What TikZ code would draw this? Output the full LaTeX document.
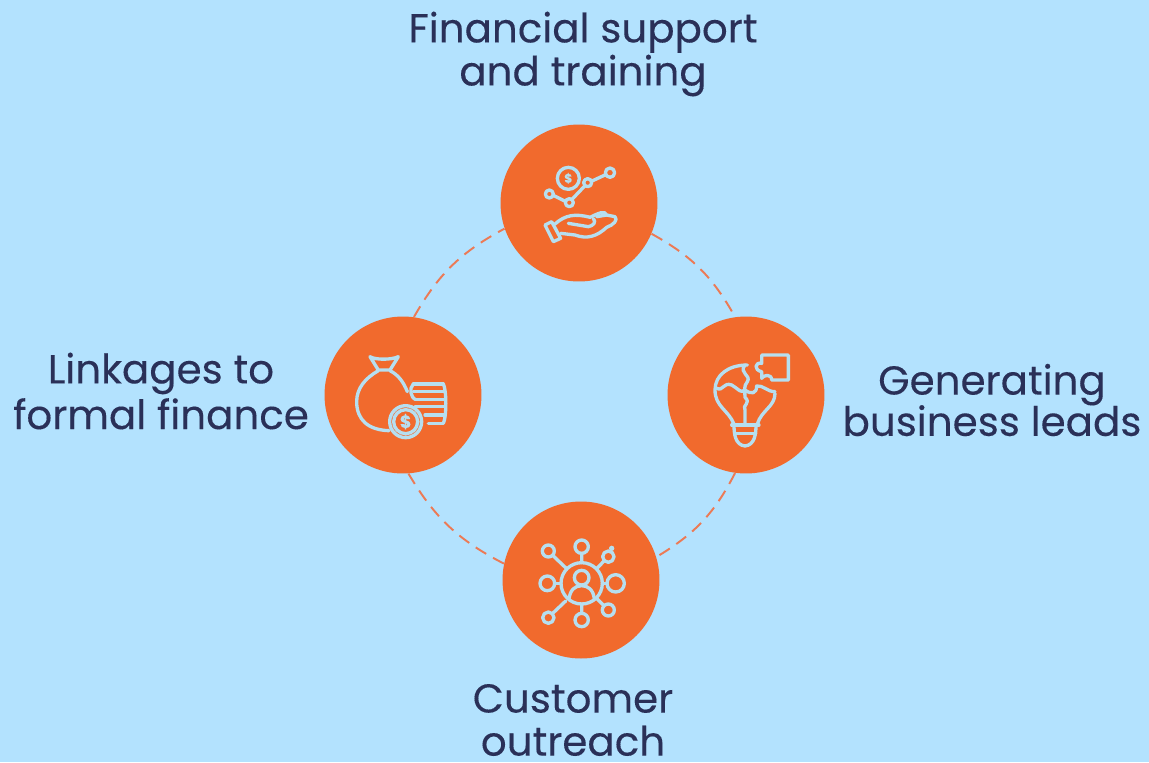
\documentclass[tikz,border=0pt]{standalone}
\usepackage{fontspec}
\setmainfont{Poppins}[FakeBold=0.2]
\definecolor{skybg}{HTML}{B3E2FE}
\definecolor{discorange}{HTML}{F16A2D}
\definecolor{inktext}{HTML}{2A3058}
\definecolor{iconline}{HTML}{B6DFF0}
\definecolor{linkdash}{HTML}{EC7A55}
\tikzset{
  disc/.style={circle,fill=discorange,minimum size=3.14cm,inner sep=0pt},
  caption/.style={align=center,text=inktext,inner sep=0pt,
                  font=\fontsize{23}{24.5}\selectfont},
  ringlink/.style={linkdash,line width=1.1pt,dash pattern=on 7pt off 4.5pt},
  iconpen/.style={iconline,line width=1.9pt,line join=round,line cap=round},
  iconframe/.style={shift={#1},x=0.00667cm,y=-0.00667cm}
}

\begin{document}
\begin{tikzpicture}[x=0.02cm,y=-0.02cm]
  \fill[skybg] (0,0) rectangle (1149,762);
  \useasboundingbox (0,0) rectangle (1149,762);
  % discs
  \node[disc] (support)  at (579,203) {};
  \node[disc] (leads)    at (746,395) {};
  \node[disc] (outreach) at (581,580) {};
  \node[disc] (finance)  at (403,395) {};
  % dashed ring
  \draw[ringlink] (support.-23)  to[bend left=16] (leads.98);
  \draw[ringlink] (leads.-98)    to[bend left=16] (outreach.17);
  \draw[ringlink] (outreach.168) to[bend left=16] (finance.-86);
  \draw[ringlink] (finance.82)   to[bend left=16] (support.199);
  % captions
  \node[caption] (supportcap)  at (583,54)  {Financial support\\and training};
  \node[caption] (leadscap)    at (992,400) {Generating\\[-1pt]business leads};
  \node[caption] (outreachcap) at (573,720) {Customer\\outreach};
  \node[caption] (financecap)  at (161,391) {Linkages to\\[1.5pt]formal finance};
  % hand and chart
  \begin{scope}[iconframe={(490,120)},iconpen]
    \draw (235,175) circle (33);
    \node[iconline,inner sep=0pt,font=\fontsize{7}{7}\selectfont\bfseries] (coinA) at (235,175) {\$};
    \draw (178,222) circle (12) (238,248) circle (12) (293,188) circle (12) (360,158) circle (14);
    \draw (190,226) -- (226,244) (246,238) -- (285,197) (304,184) -- (347,164);
    \draw (165,315) -- (185,305) -- (212,355) -- (190,365) -- cycle;
    \draw (195,312) .. controls (225,285) and (255,280) .. (300,292)
          .. controls (325,280) and (345,270) .. (350,285)
          -- (375,290) .. controls (385,300) and (370,315) .. (350,322)
          .. controls (320,350) and (290,358) .. (255,345) -- (212,340);
    \draw (235,310) -- (295,320) .. controls (310,318) and (320,305) .. (310,296);
    \draw (320,290) -- (350,285);
  \end{scope}
  % bulb and puzzle
  \begin{scope}[iconframe={(660,310)},iconpen]
    \draw (222,342) .. controls (205,300) and (165,290) .. (165,240)
          .. controls (165,195) and (205,165) .. (262,165);
    \draw (345,250) .. controls (345,290) and (305,300) .. (292,342);
    \draw (255,165) .. controls (235,190) and (275,195) .. (262,215)
          .. controls (250,230) and (255,240) .. (255,262)
          .. controls (275,280) and (245,285) .. (255,300) -- (255,342);
    \draw (170,235) .. controls (190,245) and (190,215) .. (215,225)
          .. controls (240,240) and (240,250) .. (255,240)
          .. controls (275,255) and (290,250) .. (290,228)
          .. controls (310,225) and (320,245) .. (345,245);
    \draw (215,345) -- (297,345) (225,370) -- (287,370);
    \draw (222,345) .. controls (222,370) and (225,405) .. (255,408)
          .. controls (285,405) and (288,370) .. (288,345);
    \draw (305,135) -- (385,135) -- (385,210) -- (335,210)
          .. controls (335,190) and (310,195) .. (305,205)
          -- (305,185) .. controls (280,180) and (285,155) .. (305,160) -- cycle;
  \end{scope}
  % person and network
  \begin{scope}[iconframe={(495,495)},iconpen]
    \draw (260,265) circle (62);
    \draw (260,248) circle (22);
    \draw (222,312) .. controls (225,285) and (240,272) .. (260,272)
          .. controls (280,272) and (295,285) .. (298,312);
    \draw (260,155) circle (20) (160,168) circle (18) (340,185) circle (17);
    \draw (157,265) circle (22) (362,265) circle (26);
    \draw (160,368) circle (17) (260,375) circle (20) (340,345) circle (18);
    \draw (260,175) -- (260,203) (173,181) -- (216,222) (328,197) -- (304,222);
    \draw (179,265) -- (198,265) (336,265) -- (322,265);
    \draw (172,356) -- (212,318) (260,355) -- (260,327) (327,332) -- (304,309);
    \fill[iconline] (350,160) circle (8);
  \end{scope}
  % money bag and coins
  \begin{scope}[iconframe={(315,310)},iconpen]
    \draw (165,140) .. controls (180,150) and (230,150) .. (250,140)
          -- (225,180) -- (190,180) -- cycle;
    \draw (190,182) .. controls (150,205) and (125,235) .. (125,275)
          .. controls (125,330) and (160,360) .. (222,362);
    \draw (225,182) .. controls (250,195) and (265,215) .. (277,245);
    \draw (272,335) circle (48) (272,335) circle (36);
    \node[iconline,inner sep=0pt,font=\fontsize{10}{10}\selectfont\bfseries] (coinB) at (272,335) {\$};
    \draw (295,222) -- (385,222) (295,245) -- (390,245) (300,268) -- (390,268)
          (300,290) -- (390,290) (330,315) -- (390,315) (340,340) -- (385,340);
    \draw (295,222) .. controls (280,235) and (290,265) .. (300,268);
    \draw (385,222) .. controls (395,240) and (395,320) .. (385,340);
  \end{scope}
\end{tikzpicture}
\end{document}
